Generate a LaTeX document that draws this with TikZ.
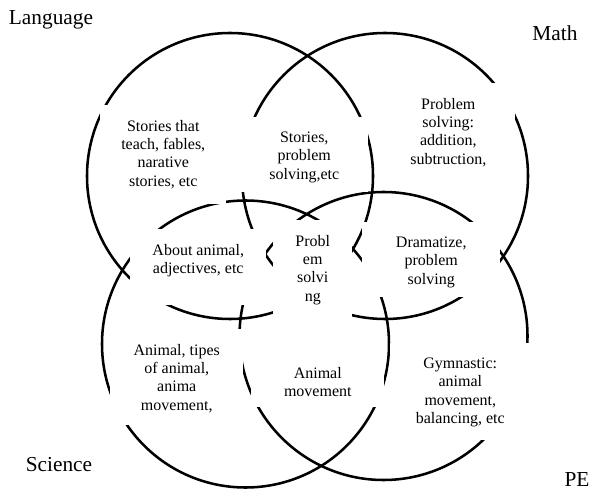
\documentclass[tikz,border=0pt]{standalone}
\usepackage{fontspec}
\setmainfont{Liberation Serif}
\newcommand{\boxtext}[3]{\begin{minipage}[c][#2][t]{#1}\centering\vspace*{11pt}#3\end{minipage}}
\tikzset{
  venn/.style={line width=1.9pt},
  tbox/.style={fill=white, inner sep=0pt, anchor=north west, font=\fontsize{12}{13.8}\selectfont},
  lbl/.style={inner sep=0.75pt, font=\fontsize{16}{19}\selectfont}
}
\begin{document}
\begin{tikzpicture}[x=0.75pt,y=0.75pt,yscale=-1,xscale=1]
\useasboundingbox (0,0) rectangle (592,491);
%Shape: Circle (Language)
\draw [venn] (230,176) circle [x radius=143, y radius=143];
%Shape: Circle (Math)
\draw [venn] (385,176) circle [x radius=143, y radius=143];
%Shape: Circle (Science)
\draw [venn] (245.5,344) circle [x radius=143.5, y radius=143.5];
%Shape: Circle (PE)
\draw [venn] (383.5,336) circle [x radius=144, y radius=144];

% Text Node
\draw (100,105) node (langOnly) [tbox] {\boxtext{94.5pt}{74.25pt}{Stories that\\teach, fables,\\narative\\stories, etc}};
% Text Node
\draw (240,117) node (langMath) [tbox] {\boxtext{96pt}{56.25pt}{Stories,\\problem\\solving,etc}};
% Text Node
\draw (381,83) node (mathOnly) [tbox] {\boxtext{100.5pt}{72pt}{Problem\\solving:\\addition,\\subtruction,}};
% Text Node
\draw (130,229) node (langSci) [tbox] {\boxtext{102pt}{57pt}{About animal,\\adjectives, etc}};
% Text Node
\draw (273,220) node (allFour) [tbox] {\boxtext{59.25pt}{73.5pt}{Probl\\em\\solvi\\ng}};
% Text Node
\draw (362,222) node (mathPe) [tbox] {\boxtext{103.5pt}{56.25pt}{Dramatize,\\problem\\solving}};
% Text Node
\draw (110,329) node (sciOnly) [tbox] {\boxtext{99.75pt}{72pt}{Animal, tipes\\of animal,\\anima\\movement,}};
% Text Node
\draw (251,352) node (sciPe) [tbox] {\boxtext{99.75pt}{41.25pt}{Animal\\movement}};
% Text Node
\draw (390,343) node (peOnly) [tbox] {\boxtext{105pt}{72.75pt}{Gymnastic:\\animal\\movement,\\balancing, etc}};

% Text Node
\draw (51,20) node (lang) [lbl] {Language};
% Text Node
\draw (555,33) node (math) [lbl] {Math};
% Text Node
\draw (59,465) node (sci) [lbl] {Science};
% Text Node
\draw (577,480) node (pe) [lbl] {PE};
\end{tikzpicture}
\end{document}
